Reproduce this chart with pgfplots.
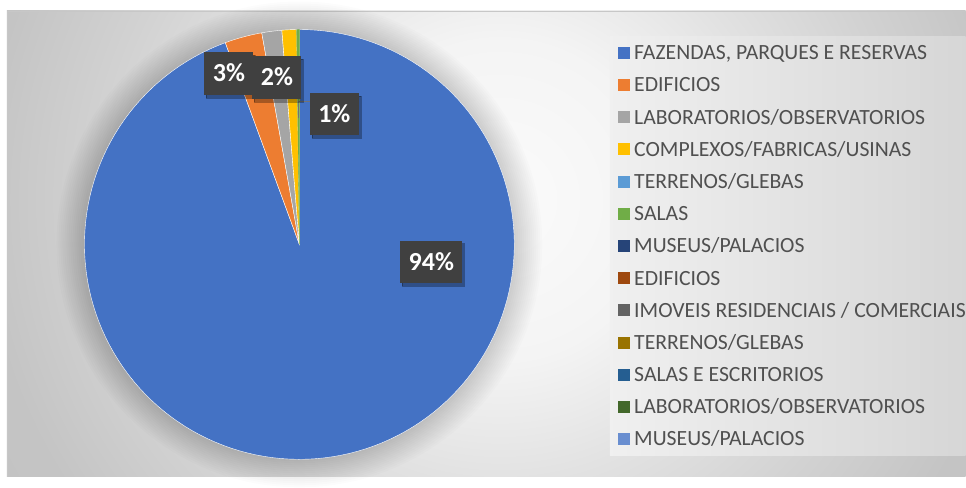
\documentclass[border=0pt]{standalone}
\usepackage{fontspec}
\setmainfont{Carlito}
\usepackage{pgfplots}
\pgfplotsset{compat=1.18}
\usetikzlibrary{shadows}

\definecolor{cA}{HTML}{4472C4}
\definecolor{cB}{HTML}{ED7D31}
\definecolor{cC}{HTML}{A5A5A5}
\definecolor{cD}{HTML}{FFC000}
\definecolor{cE}{HTML}{5B9BD5}
\definecolor{cF}{HTML}{70AD47}
\definecolor{cG}{HTML}{264478}
\definecolor{cH}{HTML}{9E480E}
\definecolor{cI}{HTML}{636363}
\definecolor{cJ}{HTML}{997300}
\definecolor{cK}{HTML}{255E91}
\definecolor{cL}{HTML}{43682B}
\definecolor{cM}{HTML}{698ED0}
\definecolor{legtext}{HTML}{505050}
\definecolor{labfill}{HTML}{404040}
\definecolor{bg0}{HTML}{FBFBFB}
\definecolor{bg1}{HTML}{F4F4F4}
\definecolor{bg2}{HTML}{E2E2E2}
\definecolor{bg3}{HTML}{D2D2D2}
\definecolor{bg4}{HTML}{C4C4C4}
\definecolor{bg5}{HTML}{BDBDBD}

\pgfdeclareradialshading{chartbg}{\pgfpoint{0bp}{0bp}}{%
  color(0bp)=(bg0); color(8bp)=(bg1); color(14bp)=(bg2);
  color(20bp)=(bg3); color(26bp)=(bg4); color(50bp)=(bg5)}

% slice values (percent)
\def\vA{94.4}% FAZENDAS, PARQUES E RESERVAS
\def\vB{2.8}%  EDIFICIOS
\def\vC{1.5}%  LABORATORIOS/OBSERVATORIOS
\def\vD{1.1}%  COMPLEXOS/FABRICAS/USINAS
\def\vE{0}%    TERRENOS/GLEBAS
\def\vF{0.2}%  SALAS
\pgfmathsetmacro\aA{3.6*\vA}
\pgfmathsetmacro\aB{\aA+3.6*\vB}
\pgfmathsetmacro\aC{\aB+3.6*\vC}
\pgfmathsetmacro\aD{\aC+3.6*\vD}
\pgfmathsetmacro\aE{\aD+3.6*\vE}
\pgfmathsetmacro\aF{\aE+3.6*\vF}

\begin{document}
\begin{tikzpicture}
\begin{axis}[
  x=1pt, y=1pt, xmin=0, xmax=966, ymin=0, ymax=477, y dir=reverse,
  hide axis, clip=false,
  legend cell align=left,
  legend style={
    at={(axis cs:618,43.75)}, anchor=north west,
    draw=none, fill=none, inner sep=0pt, outer sep=0pt,
    row sep=0pt, column sep=0pt,
    font=\fontsize{21.7}{21.7}\selectfont, text=legtext,
    nodes={inner sep=0pt, outer sep=0pt, text height=16pt, text depth=16.2pt},
    /tikz/every odd column/.append style={column sep=4.5pt},
  },
  legend image code/.code={\fill[#1, draw=none] (0pt,0.9pt) rectangle (12pt,12.9pt);},
  variable=\t,
]
% background
\fill[white] (axis cs:0,0) rectangle (axis cs:966,477);
\begin{scope}
  \clip (axis cs:7,11) rectangle (axis cs:966,477);
  \shade[shading=chartbg] (axis cs:0,-300) rectangle (axis cs:1000,700);
\end{scope}
\draw[color=black!22, line width=0.8pt] (axis cs:7,477) -- (axis cs:7,11) -- (axis cs:966,11);
% legend panel
\shade[left color=white!94!black, right color=white!84!black] (axis cs:610,37) rectangle (axis cs:966,456);
% soft halo around the pie
\pgfplotsinvokeforeach{1,...,14}{
  \fill[black, opacity=0.011] (axis cs:299.5,244.5) circle[radius={(215+2*#1)*1pt}];
}
% slices
\addplot[fill=cA, draw=white, line width=0.4pt, domain=0:\aA, samples=150]
  ({299.5+215*sin(t)}, {244.5-215*cos(t)}) -- (axis cs:299.5,244.5) -- cycle;
\addlegendentry{FAZENDAS, PARQUES E RESERVAS}
\addplot[fill=cB, draw=white, line width=0.4pt, domain=\aA:\aB, samples=8]
  ({299.5+215*sin(t)}, {244.5-215*cos(t)}) -- (axis cs:299.5,244.5) -- cycle;
\addlegendentry{EDIFICIOS}
\addplot[fill=cC, draw=white, line width=0.4pt, domain=\aB:\aC, samples=6]
  ({299.5+215*sin(t)}, {244.5-215*cos(t)}) -- (axis cs:299.5,244.5) -- cycle;
\addlegendentry{LABORATORIOS/OBSERVATORIOS}
\addplot[fill=cD, draw=white, line width=0.4pt, domain=\aC:\aD, samples=5]
  ({299.5+215*sin(t)}, {244.5-215*cos(t)}) -- (axis cs:299.5,244.5) -- cycle;
\addlegendentry{COMPLEXOS/FABRICAS/USINAS}
\addlegendimage{fill=cE}
\addlegendentry{TERRENOS/GLEBAS}
\addplot[fill=cF, draw=cF, line width=0.3pt, domain=\aE:\aF, samples=3]
  ({299.5+215*sin(t)}, {244.5-215*cos(t)}) -- (axis cs:299.5,244.5) -- cycle;
\addlegendentry{SALAS}
\addlegendimage{fill=cG}
\addlegendentry{MUSEUS/PALACIOS}
\addlegendimage{fill=cH}
\addlegendentry{EDIFICIOS}
\addlegendimage{fill=cI}
\addlegendentry{IMOVEIS RESIDENCIAIS / COMERCIAIS}
\addlegendimage{fill=cJ}
\addlegendentry{TERRENOS/GLEBAS}
\addlegendimage{fill=cK}
\addlegendentry{SALAS E ESCRITORIOS}
\addlegendimage{fill=cL}
\addlegendentry{LABORATORIOS/OBSERVATORIOS}
\addlegendimage{fill=cM}
\addlegendentry{MUSEUS/PALACIOS}
% leader line of the 1% label
\addplot[forget plot, draw=black!55, line width=0.8pt] coordinates {(310,101) (298.5,101) (298.5,118)};
% data labels
\addplot[forget plot, only marks, mark=none, point meta=explicit symbolic,
  nodes near coords,
  nodes near coords style={anchor=center, fill=labfill, text=white,
    font=\fontsize{26}{26}\selectfont\bfseries,
    inner xsep=8.5pt, inner ysep=13pt, text height=16.5pt, text depth=0pt,
    drop shadow={shadow xshift=2pt, shadow yshift=-3pt, opacity=0.3, fill=black}},
] coordinates {
  (431.5,262)  [94\%]
  (229,73.5)   [3\%]
  (277,77.5)   [2\%]
  (334.5,114)  [1\%]
};
\end{axis}
\end{tikzpicture}
\end{document}
